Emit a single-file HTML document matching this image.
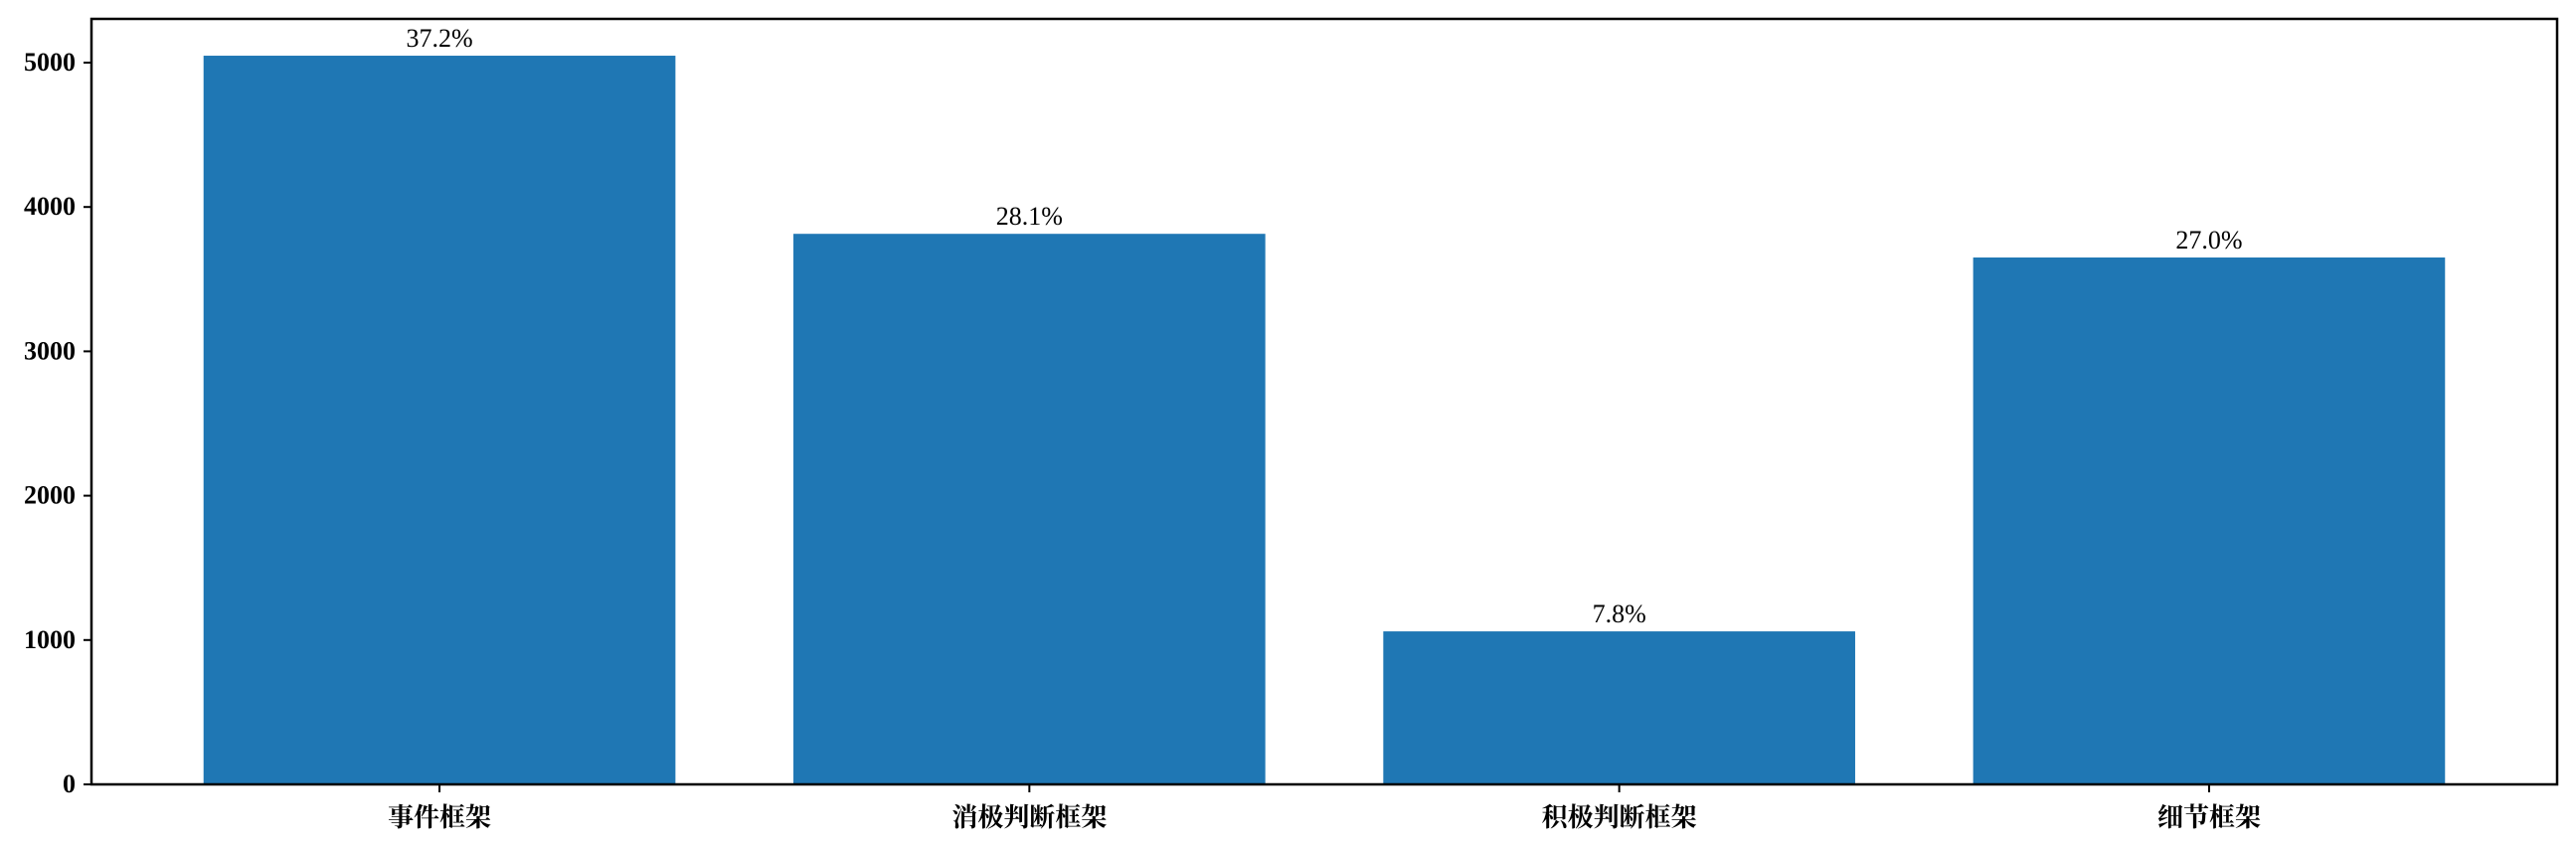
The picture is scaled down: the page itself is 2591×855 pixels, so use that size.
<!DOCTYPE html>
<html><head><meta charset="utf-8"><style>
html,body{margin:0;padding:0;background:#fff;}
svg{display:block;}
</style></head><body>
<svg id="chart" width="2591" height="855" xmlns="http://www.w3.org/2000/svg"></svg>
<script>
const categories = ["事件框架","消极判断框架","积极判断框架","细节框架"];
const values = [5048, 3814, 1060, 3650];
const pctLabels = ["37.2%","28.1%","7.8%","27.0%"];
const yTicks = [0,1000,2000,3000,4000,5000];

const NS = "http://www.w3.org/2000/svg";
const svg = document.getElementById("chart");
const L = 92, R = 2572, T = 19, B = 789;
const xMin = -0.59, xMax = 3.59;
const yMin = 0, yMax = (B - T) / 145.2 * 1000;
function xs(v){ return L + (v - xMin) / (xMax - xMin) * (R - L); }
function ys(v){ return B - (v - yMin) / (yMax - yMin) * (B - T); }
function mk(tag, attrs){ const e = document.createElementNS(NS, tag); for (const k in attrs) e.setAttribute(k, attrs[k]); svg.appendChild(e); return e; }

const bw = 0.8;
categories.forEach((c, i) => {
  const x0 = xs(i - bw/2), x1 = xs(i + bw/2);
  const bar = mk("rect", {x: x0, y: ys(values[i]), width: x1 - x0, height: ys(0) - ys(values[i]), fill: "#1f77b4"});
  
  
  const lab = mk("text", {x: xs(i), y: ys(values[i]) - 9, "text-anchor": "middle", "font-family": "Liberation Serif, serif", "font-size": "26", fill: "#000"});
  lab.textContent = pctLabels[i];
  
  
  const tk = mk("line", {x1: xs(i), x2: xs(i), y1: B, y2: B + 8, stroke: "#000", "stroke-width": 2});
  
  
  const xl = mk("text", {x: xs(i), y: B + 42, "text-anchor": "middle", "font-family": "Liberation Serif, Noto Serif CJK SC, serif", "font-weight": "bold", "font-size": "26", fill: "#000"});
  xl.textContent = c;
  
  
});

yTicks.forEach(t => {
  const y = ys(t);
  const tk = mk("line", {x1: L - 8, x2: L, y1: y, y2: y, stroke: "#000", "stroke-width": 2});
  
  
  const tl = mk("text", {x: L - 16, y: y + 8, "text-anchor": "end", "font-family": "Liberation Serif, serif", "font-weight": "bold", "font-size": "26", fill: "#000"});
  tl.textContent = String(t);
  
  
});

const frame = mk("rect", {x: L, y: T, width: R - L, height: B - T, fill: "none", stroke: "#000", "stroke-width": 2.5});


</script>
</body></html>
